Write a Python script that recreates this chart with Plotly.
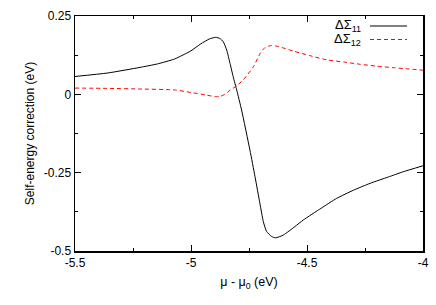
import plotly.graph_objects as go

x11 = [-5.5, -5.36, -5.22, -5.145, -5.07, -5.0, -4.958, -4.92, -4.893, -4.875, -4.861,
       -4.846, -4.832, -4.818, -4.803, -4.782, -4.746, -4.724, -4.703, -4.688, -4.674,
       -4.652, -4.635, -4.602, -4.552, -4.516, -4.44, -4.372, -4.30, -4.228, -4.15,
       -4.085, -4.0]
y11 = [0.057, 0.068, 0.086, 0.097, 0.113, 0.139, 0.161, 0.177, 0.182, 0.178, 0.168,
       0.141, 0.099, 0.056, 0.014, -0.050, -0.178, -0.263, -0.348, -0.407, -0.438,
       -0.454, -0.458, -0.449, -0.422, -0.401, -0.364, -0.332, -0.306, -0.284, -0.264,
       -0.247, -0.228]

x12 = [-5.5, -5.36, -5.22, -5.07, -5.0, -4.93, -4.897, -4.875, -4.855, -4.832, -4.803,
       -4.775, -4.731, -4.70, -4.68, -4.652, -4.62, -4.559, -4.49, -4.415, -4.34,
       -4.272, -4.2, -4.128, -4.06, -4.0]
y12 = [0.020, 0.019, 0.017, 0.014, 0.006, -0.003, -0.007, -0.007, 0.000, 0.013, 0.027,
       0.046, 0.088, 0.133, 0.150, 0.156, 0.152, 0.138, 0.124, 0.110, 0.103,
       0.096, 0.090, 0.085, 0.081, 0.077]

x_ticks = [-5.5, -5, -4.5, -4]
x_tick_labels = ["-5.5", "-5", "-4.5", "-4"]
y_ticks = [0.25, 0, -0.25, -0.5]
y_tick_labels = ["0.25", "0", "-0.25", "-0.5"]
legend_labels = ["ΔΣ<sub>11</sub>", "ΔΣ<sub>12</sub>"]

FONT = "Liberation Sans, Arial, sans-serif"

fig = go.Figure()
fig.add_trace(go.Scatter(x=x11, y=y11, mode="lines",
                         line=dict(color="black", width=1, shape="spline", smoothing=0.5),
                         showlegend=False, hoverinfo="skip"))
fig.add_trace(go.Scatter(x=x12, y=y12, mode="lines",
                         line=dict(color="#ff0000", width=1, dash="4px,3px", shape="spline", smoothing=0.5),
                         showlegend=False, hoverinfo="skip"))

axis_common = dict(showgrid=False, zeroline=False, showline=True, linecolor="black", linewidth=1.5,
                   mirror="ticks", ticks="inside", ticklen=6, tickcolor="black", tickwidth=1,
                   automargin=False,
                   tickfont=dict(family=FONT, size=12, color="black"))

fig.update_xaxes(range=[-5.5, -4], tickvals=x_ticks, ticktext=x_tick_labels,
                 minor=dict(ticks="inside", ticklen=3, dtick=0.25, tick0=-5.5, tickcolor="black"),
                 title=dict(text="μ - μ<sub>0</sub> (eV)", font=dict(family=FONT, size=12.5, color="black"), standoff=8),
                 **axis_common)
fig.update_yaxes(range=[-0.5, 0.25], tickvals=y_ticks, ticktext=y_tick_labels,
                 minor=dict(ticks="inside", ticklen=3, dtick=0.125, tick0=-0.5, tickcolor="black"),
                 title=dict(text="Self-energy correction (eV)", font=dict(family=FONT, size=12, color="black"), standoff=6),
                 **axis_common)

# manual gnuplot-style legend (text then line sample)
legend_styles = [dict(color="black", width=1, dash="solid"), dict(color="#ff0000", width=1, dash="4px,3px")]
legend_y = [26, 39.5]
H = 305
W = 436
for lab, st, ly in zip(legend_labels, legend_styles, legend_y):
    fig.add_annotation(xref="paper", yref="paper", x=(363 - 75) / 348, y=(251 - ly) / 235,
                       text=lab, showarrow=False, xanchor="right", yanchor="middle",
                       font=dict(family=FONT, size=13, color="black"))
    fig.add_shape(type="line", xref="paper", yref="paper",
                  x0=(370 - 75) / 348, x1=(407 - 75) / 348, y0=(251 - ly) / 235, y1=(251 - ly) / 235,
                  line=st)

fig.update_layout(width=W, height=H, margin=dict(l=75, r=13, t=16, b=54),
                  plot_bgcolor="white", paper_bgcolor="white", hovermode=False,
                  font=dict(family=FONT, size=12, color="black"))

fig.write_html("out.html", config={"displayModeBar": False, "staticPlot": True})

# remove the default page margin so the figure sits at the window origin
with open("out.html", "r", encoding="utf-8") as f:
    html = f.read()
html = html.replace("<head>", "<head><style>html,body{margin:0;padding:0;overflow:hidden;}</style>", 1)
with open("out.html", "w", encoding="utf-8") as f:
    f.write(html)
